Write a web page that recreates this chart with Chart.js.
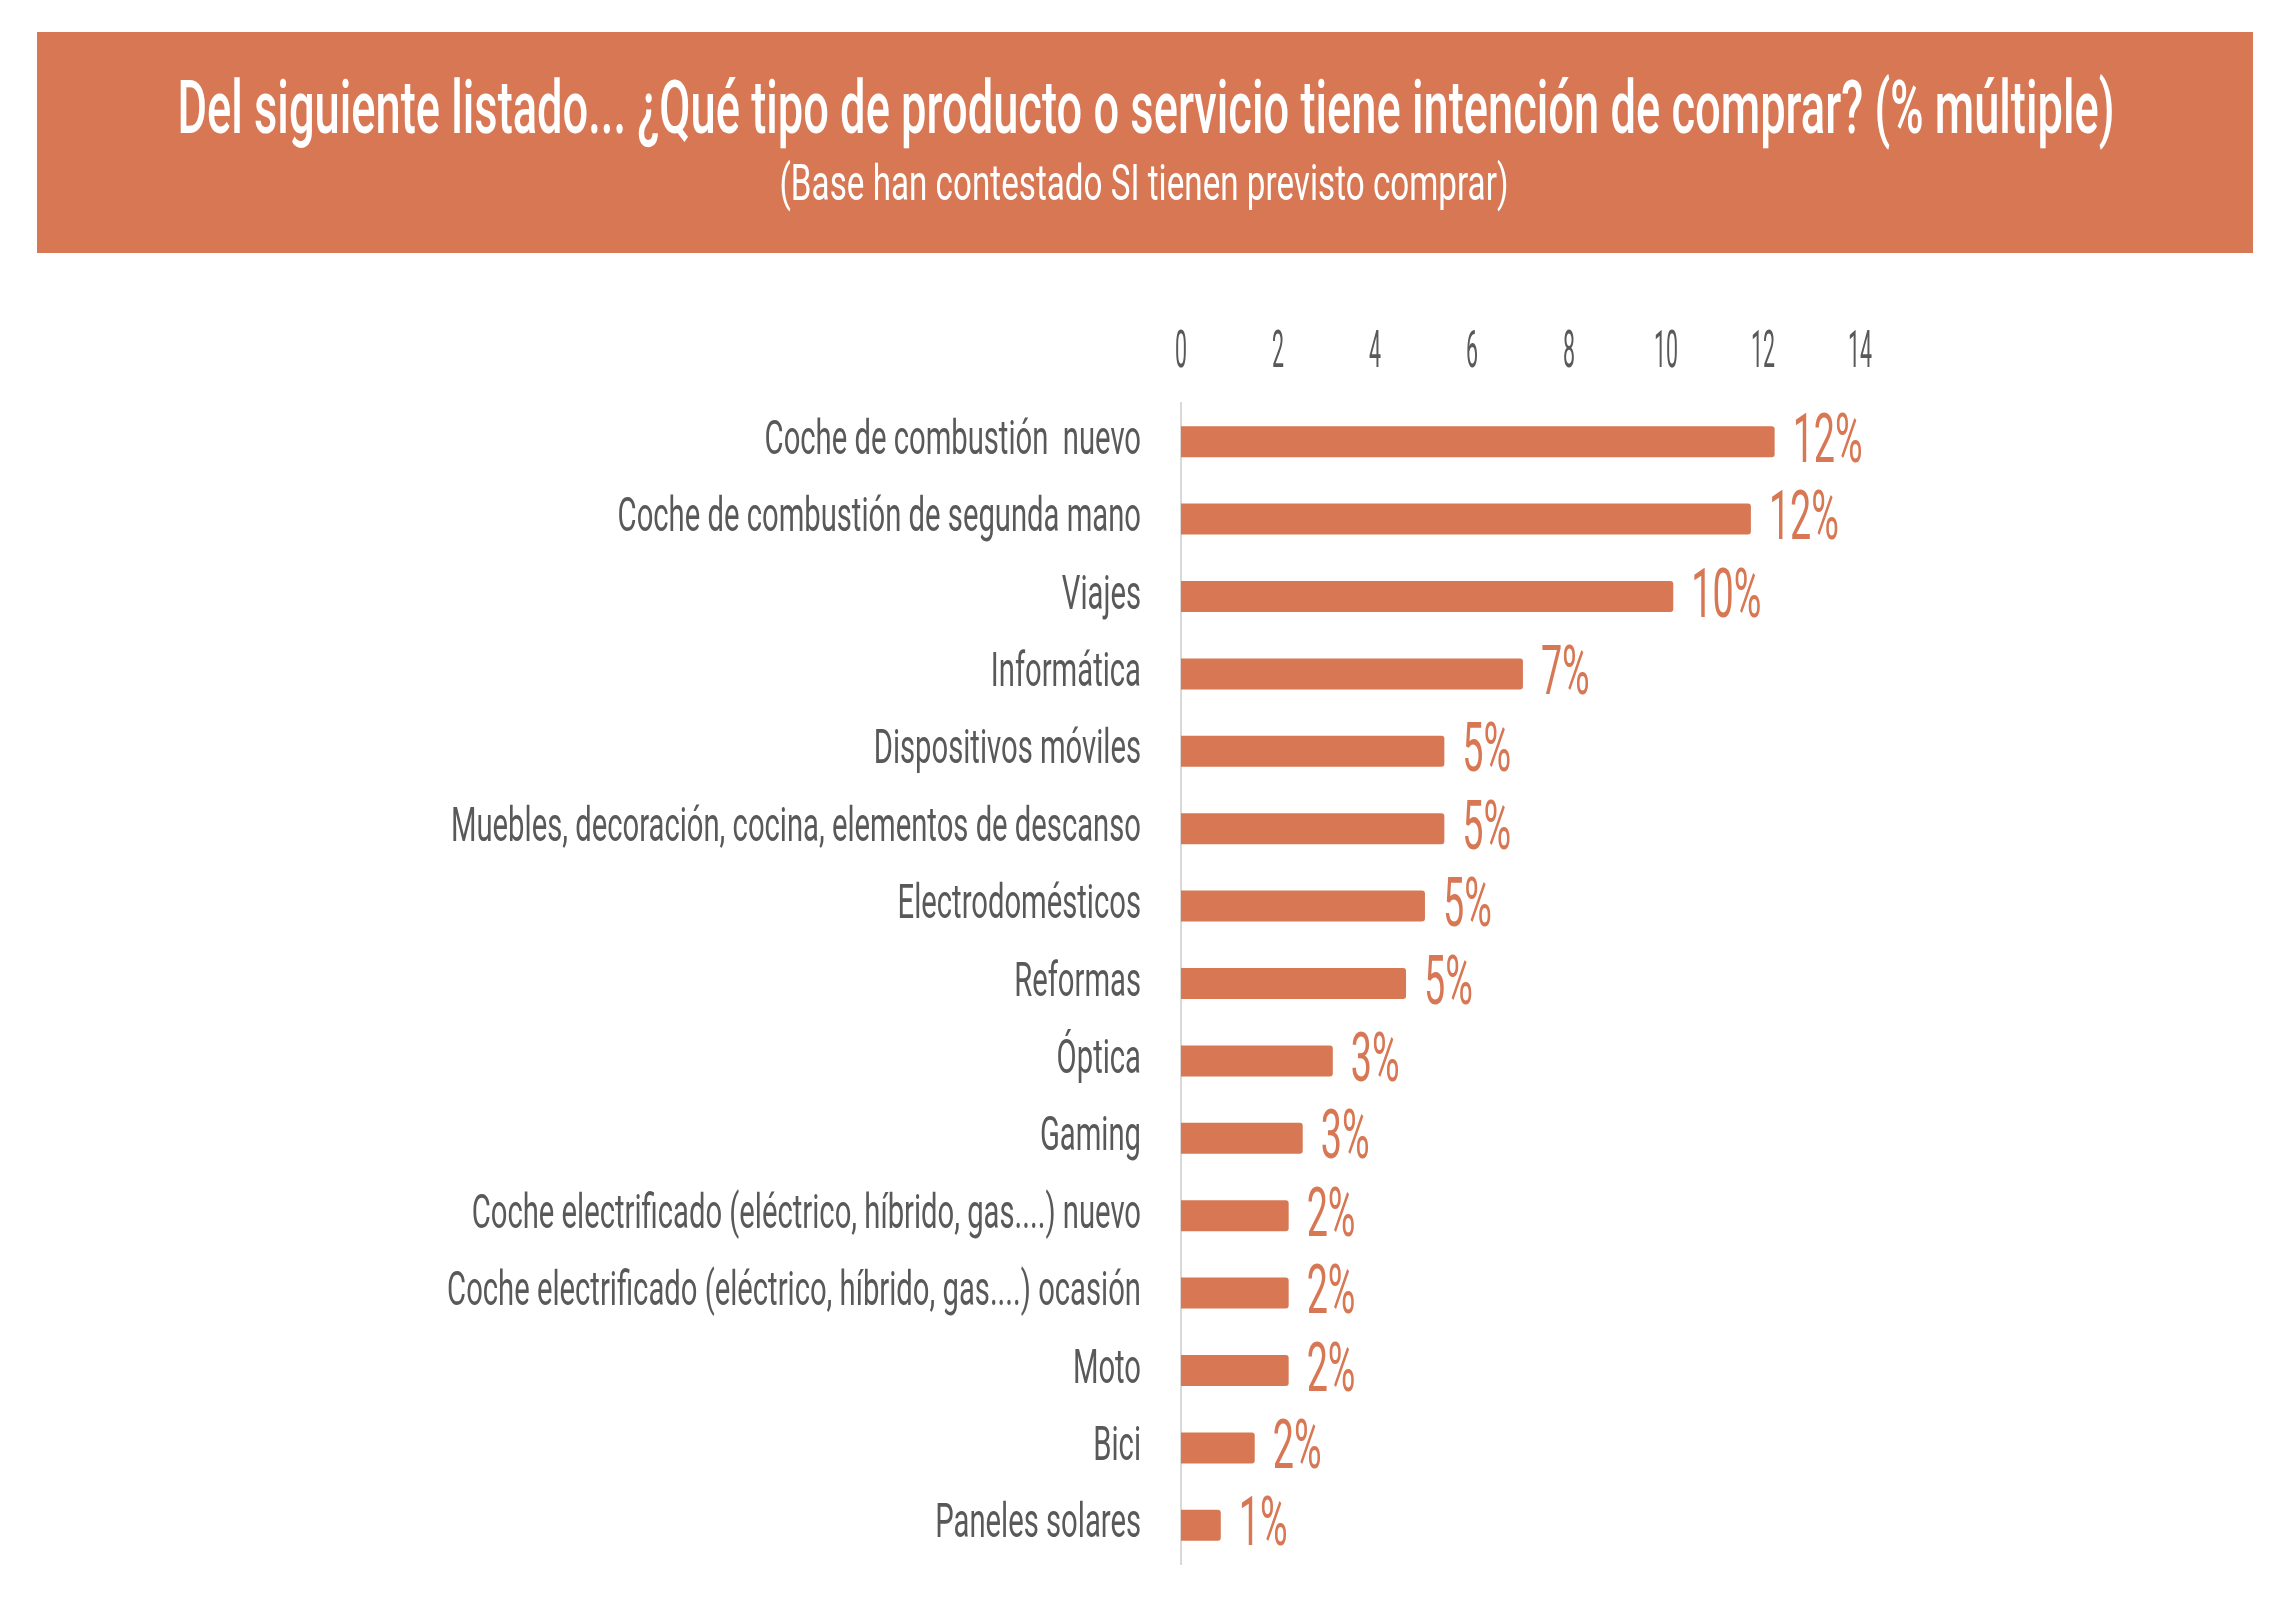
<!DOCTYPE html>
<html>
<head>
<meta charset="utf-8">
<script src="https://cdn.jsdelivr.net/npm/chart.js@4.4.0/dist/chart.umd.min.js"></script>
<style>
html,body{margin:0;padding:0;background:#fff;}
#wrap{width:2294px;height:1608px;position:relative;}
</style>
</head>
<body>
<div id="wrap"><canvas id="c"></canvas></div>
<script>
const titleText = "Del siguiente listado... ¿Qué tipo de producto o servicio tiene intención de comprar? (% múltiple)";
const subtitleText = "(Base han contestado SI tienen previsto comprar)";
const categories = [
  "Coche de combustión  nuevo",
  "Coche de combustión de segunda mano",
  "Viajes",
  "Informática",
  "Dispositivos móviles",
  "Muebles, decoración, cocina, elementos de descanso",
  "Electrodomésticos",
  "Reformas",
  "Óptica",
  "Gaming",
  "Coche electrificado (eléctrico, híbrido, gas....) nuevo",
  "Coche electrificado (eléctrico, híbrido, gas....) ocasión",
  "Moto",
  "Bici",
  "Paneles solares"
];
const values = [12.24, 11.75, 10.15, 7.05, 5.43, 5.43, 5.03, 4.64, 3.13, 2.51, 2.22, 2.22, 2.22, 1.52, 0.82];
const xTicks = [0, 2, 4, 6, 8, 10, 12, 14];

const ORANGE = '#D77753';
const GRAY = '#595959';
const FAM = 'Roboto, "Liberation Sans", sans-serif';

function widthOf(ctx, text, font) {
  ctx.save(); ctx.font = font; const w = ctx.measureText(text).width; ctx.restore(); return w;
}
function drawCondensed(ctx, text, x, y, font, color, align, sx) {
  ctx.save();
  ctx.translate(x, y);
  ctx.scale(sx, 1);
  ctx.font = font;
  ctx.fillStyle = color;
  ctx.textAlign = align;
  ctx.textBaseline = 'alphabetic';
  ctx.fillText(text, 0, 0);
  ctx.restore();
}

const TITLE_FONT = '500 75px ' + FAM;
const SUB_FONT = '400 50px ' + FAM;
const LABEL_FONT = '400 49px ' + FAM;
const DATA_FONT = '400 69px ' + FAM;
const TICK_FONT = '400 51px ' + FAM;

const overlay = {
  id: 'overlay',
  beforeDraw(chart) {
    const ctx = chart.ctx;
    ctx.save();
    ctx.fillStyle = '#ffffff';
    ctx.fillRect(0, 0, chart.width, chart.height);
    ctx.fillStyle = ORANGE;
    ctx.fillRect(37, 32, 2216, 221);
    ctx.restore();
    const tSx = 1937 / widthOf(ctx, titleText, TITLE_FONT);
    drawCondensed(ctx, titleText, 1146, 133, TITLE_FONT, '#ffffff', 'center', tSx);
    const sSx = 729 / widthOf(ctx, subtitleText, SUB_FONT);
    drawCondensed(ctx, subtitleText, 1144, 200, SUB_FONT, '#ffffff', 'center', sSx);
  },
  afterDatasetsDraw(chart) {
    const ctx = chart.ctx;
    const xs = chart.scales.x, ys = chart.scales.y;
    const lSx = 690 / widthOf(ctx, categories[5], LABEL_FONT);
    const dSx = 70 / widthOf(ctx, '12%', DATA_FONT);
    const kSx = 24 / widthOf(ctx, '10', TICK_FONT);
    xTicks.forEach(t => {
      drawCondensed(ctx, String(t), xs.getPixelForValue(t), 367, TICK_FONT, GRAY, 'center', kSx);
    });
    const meta = chart.getDatasetMeta(0);
    categories.forEach((c, i) => {
      const y = ys.getPixelForValue(i);
      drawCondensed(ctx, c, xs.left - 40, y + 12, LABEL_FONT, GRAY, 'right', lSx);
      const bar = meta.data[i];
      drawCondensed(ctx, Math.round(values[i]) + '%', bar.x + 18, y + 20, DATA_FONT, ORANGE, 'left', dSx);
    });
  }
};

new Chart(document.getElementById('c'), {
  type: 'bar',
  data: {
    labels: categories,
    datasets: [{
      data: values,
      backgroundColor: ORANGE,
      borderRadius: 3,
      borderSkipped: 'start',
      barPercentage: 0.4,
      categoryPercentage: 1
    }]
  },
  options: {
    indexAxis: 'y',
    responsive: true,
    maintainAspectRatio: false,
    animation: false,
    devicePixelRatio: 1,
    layout: { padding: { left: 1181, right: 434, top: 403, bottom: 44 } },
    plugins: { legend: { display: false }, tooltip: { enabled: false }, title: { display: false } },
    scales: {
      x: {
        type: 'linear', min: 0, max: 14, display: false,
        ticks: { stepSize: 2 }
      },
      y: {
        type: 'category', display: true,
        grid: { display: false, drawTicks: false },
        ticks: { display: false },
        border: { display: true, color: '#d9d9d9', width: 2 }
      }
    }
  },
  plugins: [overlay]
});
</script>
</body>
</html>
